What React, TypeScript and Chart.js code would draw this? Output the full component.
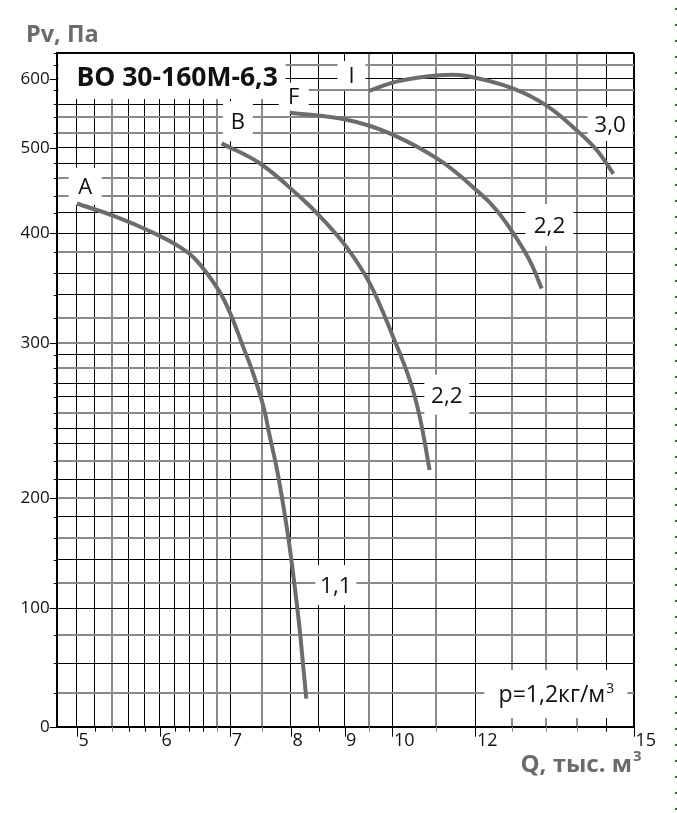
import React, { useEffect, useRef } from 'react';
import { Chart, registerables, LinearScale } from 'chart.js';

Chart.register(...registerables);

const FONT = '"Open Sans", "Noto Sans", sans-serif';

// ---------- Axis definitions ----------
// Q, thousand m3 (logarithmic grid)
const xGridValues = [5, 5.2, 5.4, 5.6, 5.8, 6, 6.2, 6.4, 6.6, 6.8, 7, 7.5, 8, 8.5, 9, 9.5, 10, 11, 12, 13, 14, 15, 16, 17];
const xTickLabels = ['5', '', '', '', '', '6', '', '', '', '', '7', '', '8', '', '9', '', '10', '', '12', '', '', '', '', '15'];
const xGrayLines = [5.4, 6.8, 7.5, 9.5, 11, 13, 14, 15];
const xMin = 4.782;
const xMax = 17;

// Pv, Pa (non-uniform grid of the original diagram)
const yGridValues = [0, 25, 50, 75, 100, 120, 140, 160, 180, 200, 210, 220, 230, 240, 250, 260, 270, 280, 290, 300, 320, 340, 360, 380, 400, 420, 440, 460, 480, 500, 520, 540, 560, 580, 600, 620, 640];
const yGridFractions = [0, 0.0496, 0.0941, 0.1362, 0.1758, 0.2129, 0.2476, 0.2798, 0.3118, 0.3401, 0.3674, 0.395, 0.4209, 0.4431, 0.4663, 0.49, 0.5099, 0.5322, 0.552, 0.5702, 0.6074, 0.6411, 0.6733, 0.7054, 0.7327, 0.7633, 0.7881, 0.8144, 0.8367, 0.8598, 0.8812, 0.905, 0.9243, 0.9451, 0.9623, 0.9822, 1];
const yLabelValues = [0, 100, 200, 300, 400, 500, 600];
const yGrayLines = [620, 580, 540, 520, 460, 440, 380, 320, 300, 280, 250, 220, 200, 160, 120, 75, 25];

// ---------- Curves ----------
const curveA_Q = [5.0, 5.45, 5.87, 6.27, 6.5, 6.82, 7.0, 7.2, 7.36, 7.53, 7.64, 7.76, 7.88, 7.97, 8.06, 8.15, 8.22, 8.275];
const curveA_P = [431, 416, 402, 385, 372, 345, 324, 297, 277, 254, 234, 215, 187, 155, 120, 83, 47, 21];

const curveB_Q = [6.87, 7.47, 8.16, 8.59, 9.04, 9.51, 10.01, 10.39, 10.62, 10.85];
const curveB_P = [506, 480, 439, 413, 385, 351, 305, 272, 247, 215];

const curveF_Q = [7.98, 9.04, 9.94, 11.09, 12.12, 12.57, 13.04, 13.53, 13.88];
const curveF_P = [547, 537, 520, 484, 443, 423, 400, 371, 346];

const curveI_Q = [9.5, 10.09, 11.1, 11.77, 13.04, 14.03, 15.04, 15.66, 16.25];
const curveI_P = [579, 595, 605, 604, 583, 558, 522, 497, 466];

// ---------- Annotations (placed in data coordinates) ----------
type Note = { text: string; q: number; p: number; size: number; bold?: boolean; boxW: number; boxH: number; boxDx?: number; sup?: string };
const notes: Note[] = [
  { text: 'ВО 30-160М-6,3', q: 6.23, p: 603.3, size: 26.5, bold: true, boxW: 227, boxH: 45, boxDx: -5 },
  { text: 'A', q: 5.09, p: 451, size: 22, boxW: 33, boxH: 37 },
  { text: 'B', q: 7.12, p: 535, size: 22, boxW: 30, boxH: 40 },
  { text: 'F', q: 8.05, p: 571, size: 22, boxW: 30, boxH: 28 },
  { text: 'I', q: 9.14, p: 605.5, size: 22, boxW: 28, boxH: 28 },
  { text: '3,0', q: 16.13, p: 531.6, size: 22.5, boxW: 45, boxH: 34 },
  { text: '2,2', q: 14.12, p: 408, size: 22.5, boxW: 48, boxH: 42 },
  { text: '2,2', q: 11.27, p: 261.6, size: 22.5, boxW: 45, boxH: 40 },
  { text: '1,1', q: 8.83, p: 118.6, size: 22.5, boxW: 41, boxH: 40 },
  { text: 'р=1,2кг/м', sup: '3', q: 14.32, p: 24.4, size: 23, boxW: 143, boxH: 48 },
];

const CURVE_COLOR = '#6c6c6c';
const GRAY_LINE = '#8a8a8a';

function interp(v: number, xs: number[], ys: number[]): number {
  const n = xs.length;
  if (v <= xs[0]) return ys[0] + ((v - xs[0]) * (ys[1] - ys[0])) / (xs[1] - xs[0]);
  if (v >= xs[n - 1]) return ys[n - 1] + ((v - xs[n - 1]) * (ys[n - 1] - ys[n - 2])) / (xs[n - 1] - xs[n - 2]);
  for (let i = 1; i < n; i++) {
    if (v <= xs[i]) {
      const t = (v - xs[i - 1]) / (xs[i] - xs[i - 1]);
      return ys[i - 1] + t * (ys[i] - ys[i - 1]);
    }
  }
  return ys[n - 1];
}

class PiecewiseScale extends LinearScale {
  static id = 'piecewise';
  static defaults = LinearScale.defaults;
  getPixelForValue(value: number) {
    return this.getPixelForDecimal(interp(value, yGridValues, yGridFractions));
  }
  getValueForPixel(pixel: number) {
    return interp(this.getDecimalForPixel(pixel), yGridFractions, yGridValues);
  }
}
Chart.register(PiecewiseScale as any);

const zip = (qs: number[], ps: number[]) => qs.map((q, i) => ({ x: q, y: ps[i] }));

const labelBoxes = {
  id: 'labelBoxes',
  beforeDatasetsDraw(chart: any) {
    const { ctx, scales } = chart;
    ctx.save();
    notes.forEach((n) => {
      const px = scales.x.getPixelForValue(n.q);
      const py = scales.y.getPixelForValue(n.p);
      ctx.fillStyle = '#ffffff';
      ctx.fillRect(px - n.boxW / 2 + (n.boxDx || 0), py - n.boxH / 2, n.boxW, n.boxH);
      const mainFont = `${n.bold ? 'bold ' : ''}${n.size}px ${FONT}`;
      ctx.font = mainFont;
      ctx.fillStyle = '#111111';
      ctx.textBaseline = 'alphabetic';
      const mainW = ctx.measureText(n.text).width;
      let supW = 0;
      const supFont = `${Math.round(n.size * 0.6)}px ${FONT}`;
      if (n.sup) {
        ctx.font = supFont;
        supW = ctx.measureText(n.sup).width;
        ctx.font = mainFont;
      }
      const startX = px - (mainW + supW) / 2;
      const baseline = py + n.size * 0.357;
      ctx.textAlign = 'left';
      ctx.fillText(n.text, startX, baseline);
      if (n.sup) {
        ctx.font = supFont;
        ctx.fillText(n.sup, startX + mainW + 1, baseline - n.size * 0.42);
      }
    });
    ctx.restore();
  },
};

const axisDecor = {
  id: 'axisDecor',
  afterDraw(chart: any) {
    const { ctx, chartArea, scales } = chart;
    const { left, right, top, bottom } = chartArea;
    ctx.save();
    ctx.lineWidth = 1;
    xGridValues.forEach((v, i) => {
      const px = Math.round(scales.x.getPixelForValue(v)) + 0.5;
      const len = xTickLabels[i] ? 10 : 5;
      ctx.strokeStyle = xGrayLines.includes(v) ? GRAY_LINE : '#000';
      ctx.beginPath();
      ctx.moveTo(px, bottom);
      ctx.lineTo(px, bottom + len);
      ctx.stroke();
    });
    yGridValues.forEach((v) => {
      const py = Math.round(scales.y.getPixelForValue(v)) + 0.5;
      const len = yLabelValues.includes(v) ? 7 : 3;
      ctx.strokeStyle = '#000';
      ctx.beginPath();
      ctx.moveTo(left - len, py);
      ctx.lineTo(left, py);
      ctx.stroke();
    });
    // axis titles
    ctx.fillStyle = '#6b6b6b';
    ctx.textBaseline = 'alphabetic';
    ctx.font = `bold 23.5px ${FONT}`;
    ctx.textAlign = 'left';
    ctx.fillText('Pv, Па', left - 30.7, top - 11.6);
    ctx.textAlign = 'right';
    ctx.font = `bold 24px ${FONT}`;
    ctx.fillText('Q, тыс. м', right - 2, bottom + 45);
    ctx.textAlign = 'left';
    ctx.font = `bold 15px ${FONT}`;
    ctx.fillText('3', right - 1, bottom + 34);
    ctx.restore();
  },
};

export default function App() {
  const canvasRef = useRef<HTMLCanvasElement | null>(null);

  useEffect(() => {
    if (!canvasRef.current) return;
    const ds = (data: { x: number; y: number }[]) => ({
      data,
      borderColor: CURVE_COLOR,
      borderWidth: 4,
      pointRadius: 0,
      showLine: true,
      fill: false,
      tension: 0.4,
      clip: false as const,
    });
    const chart = new Chart(canvasRef.current, {
      type: 'scatter',
      data: {
        datasets: [ds(zip(curveA_Q, curveA_P)), ds(zip(curveB_Q, curveB_P)), ds(zip(curveF_Q, curveF_P)), ds(zip(curveI_Q, curveI_P))],
      },
      options: {
        animation: false,
        responsive: false,
        events: [],
        layout: { padding: { left: 6.7, top: 53.3, right: 43, bottom: 46.3 } },
        plugins: { legend: { display: false }, tooltip: { enabled: false }, title: { display: false } },
        scales: {
          x: {
            type: 'logarithmic',
            min: xMin,
            max: xMax,
            afterBuildTicks: (s: any) => {
              s.ticks = xGridValues.map((v) => ({ value: v }));
            },
            afterFit: (s: any) => {
              s.height = 40;
            },
            ticks: {
              autoSkip: false,
              maxRotation: 0,
              minRotation: 0,
              align: 'start',
              padding: 3,
              labelOffset: 1.5,
              color: '#111',
              font: { family: FONT, size: 18 },
              callback: (_v: any, i: number) => xTickLabels[i],
            },
            grid: {
              drawTicks: false,
              color: (c: any) => (xGrayLines.includes(c.tick?.value) ? GRAY_LINE : '#000'),
              lineWidth: (c: any) => (c.tick?.value === xMax ? 2 : xGrayLines.includes(c.tick?.value) ? 2 : 1),
            },
            border: { color: '#000', width: 2 },
          },
          y: {
            type: 'piecewise' as any,
            min: 0,
            max: 640,
            afterBuildTicks: (s: any) => {
              s.ticks = yGridValues.map((v) => ({ value: v }));
            },
            afterFit: (s: any) => {
              s.width = 50;
            },
            ticks: {
              autoSkip: false,
              padding: 7,
              color: '#111',
              font: { family: FONT, size: 17 },
              callback: (v: any) => (yLabelValues.includes(Number(v)) ? String(v) : ''),
            },
            grid: {
              drawTicks: false,
              color: (c: any) => (yGrayLines.includes(c.tick?.value) ? GRAY_LINE : '#000'),
              lineWidth: (c: any) => (c.tick?.value === 640 ? 2 : yGrayLines.includes(c.tick?.value) ? 2 : 1),
            },
            border: { color: '#000', width: 2 },
          } as any,
        },
      },
      plugins: [labelBoxes, axisDecor],
    });
    return () => chart.destroy();
  }, []);

  return (
    <div style={{ position: 'absolute', left: 0, top: 0, width: 677, height: 813, background: '#fff' }}>
      <canvas ref={canvasRef} width={677} height={813} style={{ width: 677, height: 813, display: 'block' }} />
      <div
        style={{
          position: 'absolute',
          left: 675,
          top: 0,
          width: 1.5,
          height: 813,
          background: 'repeating-linear-gradient(to bottom, transparent 0px, transparent 8px, #2e6b2e 8px, #2e6b2e 10px, transparent 10px, transparent 16px)',
        }}
      />
    </div>
  );
}
